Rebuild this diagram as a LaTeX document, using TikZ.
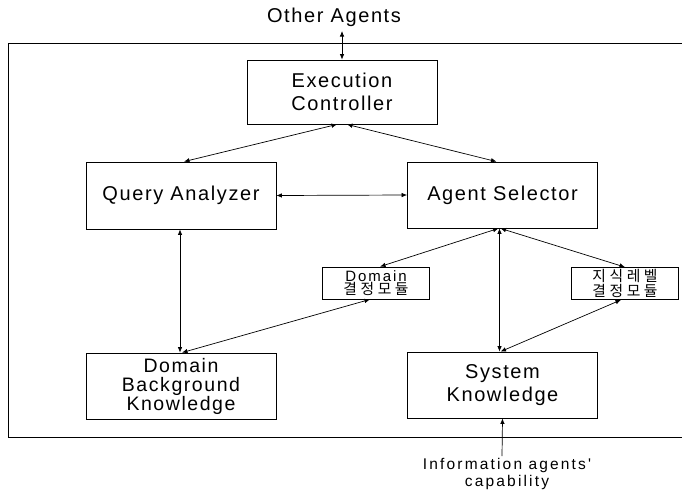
\documentclass[tikz,border=0pt]{standalone}
\usepackage{fontspec}
\setmainfont{Liberation Sans}[LetterSpace=8]
\newfontfamily\smallf{Liberation Sans}[LetterSpace=13]
\newfontfamily\infof{Liberation Sans}[LetterSpace=14]
\newfontfamily\kr{Noto Sans CJK KR}[LetterSpace=24]
\usetikzlibrary{arrows.meta}
\begin{document}
\begin{tikzpicture}[x=1pt,y=-1pt,
  bigbox/.style={draw,line width=0.8pt,minimum width=190pt,align=center,
    font=\fontsize{20}{23}\selectfont,inner sep=0pt},
  smallbox/.style={draw,line width=0.8pt,minimum width=107pt,minimum height=32pt,
    align=center,inner sep=0pt},
  conn/.style={line width=0.7pt,{Latex[length=5.5pt,width=4.5pt]}-{Latex[length=5.5pt,width=4.5pt]}},
  oneway/.style={line width=0.7pt,-{Latex[length=5.5pt,width=4.5pt]}}]
\useasboundingbox (0,0) rectangle (682,493);
% outer frame (right side runs off the picture)
\draw[line width=0.9pt] (700,43) -- (8,43) -- (8,437) -- (700,437);
% nodes
\node[font=\fontsize{20}{21}\selectfont] (oa) at (334,17) {Other Agents};
\coordinate (oatip) at (342,31);
\node[bigbox,minimum height=64pt] (exec) at (342,92) {Execution\\Controller};
\node[bigbox,minimum height=67pt] (qa) at (181,195.5) {Query Analyzer};
\node[bigbox,minimum height=66pt] (as) at (502.5,195) {Agent Selector};
\node[smallbox] (dom) at (376,283) {{\smallf\fontsize{15}{15}\selectfont Domain}\\[0pt]{\kr\fontsize{14.8}{15}\selectfont 결정모듈}};
\node[smallbox] (jis) at (625,283.5) {{\kr\fontsize{14.8}{15}\selectfont 지식레벨}\\[0pt]{\kr\fontsize{14.8}{15}\selectfont 결정모듈}};
\node[bigbox,minimum height=66pt,font=\fontsize{19.5}{19}\selectfont] (dbk) at (181,386) {Domain\\Background\\Knowledge};
\node[bigbox,minimum height=66pt] (sk) at (502.5,385) {System\\Knowledge};
\node[align=center,font=\infof\fontsize{15.5}{17}\selectfont] (info) at (507,474) {Information agents'\\capability};
\coordinate (infotip) at (502,456);
% connectors
\draw[conn] (oatip) -- (exec.north);
\draw[conn] ([xshift=-5pt]exec.south) -- ([xshift=3pt]qa.north);
\draw[conn] ([xshift=5pt]exec.south) -- ([xshift=-6pt]as.north);
\draw[conn] (qa.east) -- (as.west);
\draw[conn] ([xshift=-4pt]as.south) -- ([xshift=4pt]dom.north);
\draw[conn] ([xshift=-3pt]as.south) -- ([xshift=-3pt]sk.north);
\draw[conn] ([xshift=-2pt]as.south) -- (jis.north);
\draw[conn] ([xshift=-1pt]qa.south) -- ([xshift=-1pt]dbk.north);
\draw[conn] ([xshift=1pt]dbk.north) -- ([xshift=-6pt]dom.south);
\draw[conn] ([xshift=-2pt]sk.north) -- ([xshift=-4pt]jis.south);
\draw[oneway] (infotip) -- (sk.south);
\end{tikzpicture}
\end{document}
